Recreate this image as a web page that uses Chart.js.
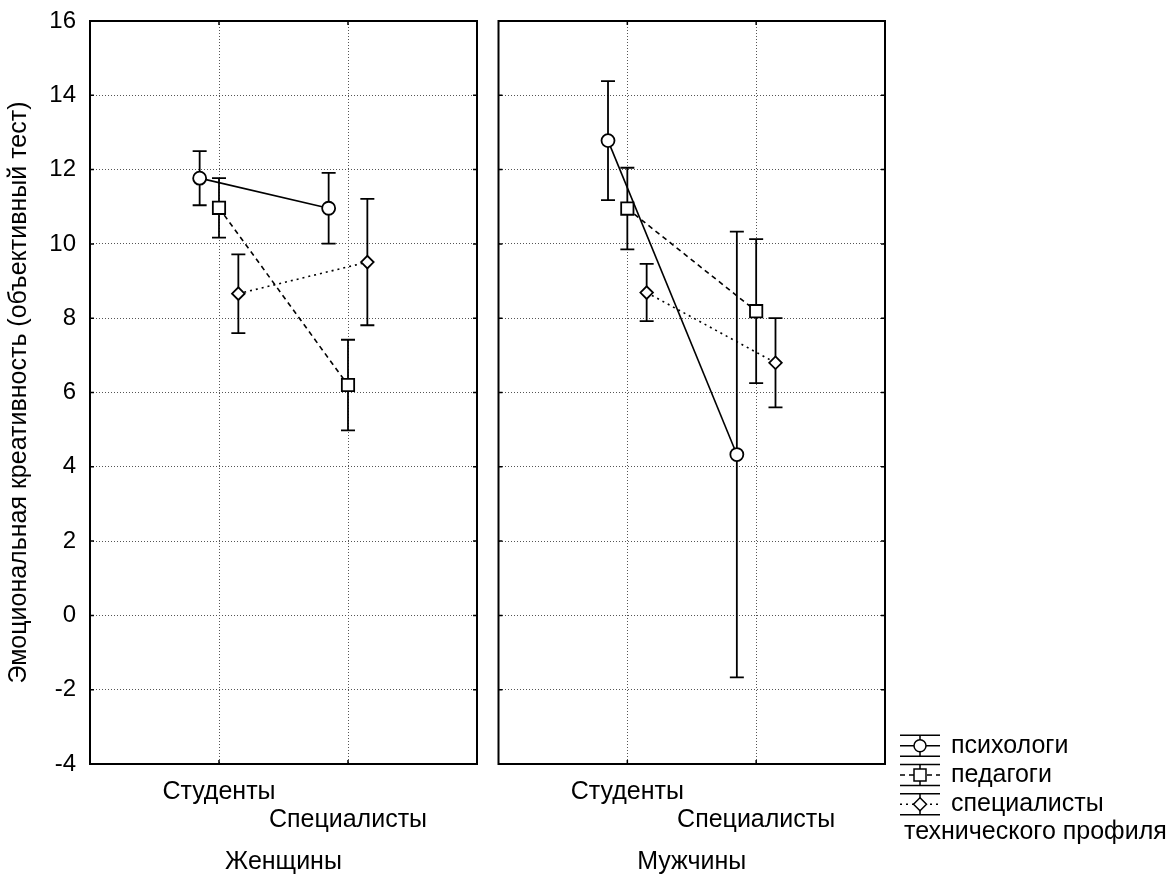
<!DOCTYPE html>
<html>
<head>
<meta charset="utf-8">
<script src="https://cdn.jsdelivr.net/npm/chart.js@4.4.0/dist/chart.umd.min.js"></script>
<style>
  body { margin: 0; background: #fff; }
  #wrap { position: relative; width: 1176px; height: 877px; }
  #left { position: absolute; left: 0; top: 0; }
  #right { position: absolute; left: 488px; top: 0; }
</style>
</head>
<body>
<div id="wrap">
  <canvas id="left" width="488" height="877" style="width:488px;height:877px"></canvas>
  <canvas id="right" width="688" height="877" style="width:688px;height:877px"></canvas>
</div>
<script>
// data (means and half-widths of the bars)
const categories = ['Студенты', 'Специалисты'];
const panels = ['Женщины', 'Мужчины'];
const seriesNames = ['психологи', 'педагоги', 'специалисты технического профиля'];
const yTitle = 'Эмоциональная креативность (объективный тест)';

const womenPsych = [11.77, 10.96];
const womenPsychErr = [0.73, 0.95];
const womenPed = [10.97, 6.20];
const womenPedErr = [0.80, 1.22];
const womenTech = [8.66, 9.51];
const womenTechErr = [1.06, 1.70];

const menPsych = [12.78, 4.33];
const menPsychErr = [1.60, 6.00];
const menPed = [10.95, 8.19];
const menPedErr = [1.10, 1.94];
const menTech = [8.69, 6.80];
const menTechErr = [0.77, 1.20];

const family = '"Liberation Sans", Arial, sans-serif';
const font = { family, size: 25, lineHeight: 1.12 };
const numFont = { family, size: 24, lineHeight: 1.1 };

// per-series look: marker, line dash, sideways shift from the category
const styles = [
  { pointStyle: 'circle', radius: 6.5, dash: [], shift: -0.15 },
  { pointStyle: 'rect', radius: 8.7, dash: [5, 4], shift: 0 },
  { pointStyle: 'rectRot', radius: 6.3, dash: [2, 4], shift: 0.15 }
];

function makeDatasets(means, errs){
  return means.map((m, s) => ({
    label: seriesNames[s],
    data: m.map((v, i) => ({ x: i + 1 + styles[s].shift, y: v, err: errs[s][i] })),
    borderColor: '#000', borderWidth: 1.6, borderDash: styles[s].dash,
    pointStyle: styles[s].pointStyle, pointRadius: styles[s].radius,
    pointBackgroundColor: '#fff', pointBorderColor: '#000', pointBorderWidth: 1.8,
    showLine: true, fill: false, tension: 0, clip: false
  }));
}

const errorBars = {
  id: 'errorBars',
  beforeDatasetsDraw(chart){
    const { ctx, scales: { x, y } } = chart;
    ctx.save();
    ctx.strokeStyle = '#000'; ctx.lineWidth = 1.8; ctx.setLineDash([]);
    chart.data.datasets.forEach(ds => ds.data.forEach(p => {
      const px = x.getPixelForValue(p.x);
      const top = y.getPixelForValue(p.y + p.err), bot = y.getPixelForValue(p.y - p.err);
      ctx.beginPath();
      ctx.moveTo(px, top); ctx.lineTo(px, bot);
      ctx.moveTo(px - 7, top); ctx.lineTo(px + 7, top);
      ctx.moveTo(px - 7, bot); ctx.lineTo(px + 7, bot);
      ctx.stroke();
    }));
    ctx.restore();
  }
};

const frame = {
  id: 'frame',
  afterDatasetsDraw(chart){
    const { ctx, chartArea: a, scales: { x, y } } = chart;
    ctx.save();
    ctx.strokeStyle = '#000'; ctx.setLineDash([]);
    ctx.lineWidth = 1.5;
    ctx.beginPath();
    y.ticks.forEach(t => {
      const py = y.getPixelForValue(t.value);
      ctx.moveTo(a.left, py); ctx.lineTo(a.left + 4, py);
      ctx.moveTo(a.right, py); ctx.lineTo(a.right - 4, py);
    });
    x.ticks.forEach(t => {
      const px = x.getPixelForValue(t.value);
      ctx.moveTo(px, a.bottom); ctx.lineTo(px, a.bottom - 4);
      ctx.moveTo(px, a.top); ctx.lineTo(px, a.top + 4);
    });
    ctx.stroke();
    ctx.lineWidth = 2;
    ctx.strokeRect(a.left, a.top, a.right - a.left, a.bottom - a.top);
    ctx.restore();
  }
};

function drawMarker(ctx, style, cx, cy){
  ctx.beginPath();
  if (style === 'circle') ctx.arc(cx, cy, 6, 0, Math.PI * 2);
  else if (style === 'rect') ctx.rect(cx - 6, cy - 6, 12, 12);
  else { ctx.moveTo(cx, cy - 6.5); ctx.lineTo(cx + 6.5, cy); ctx.lineTo(cx, cy + 6.5); ctx.lineTo(cx - 6.5, cy); ctx.closePath(); }
  ctx.fillStyle = '#fff'; ctx.fill();
  ctx.setLineDash([]); ctx.stroke();
}

const legendBox = {
  id: 'legendBox',
  afterDraw(chart){
    const ctx = chart.ctx;
    const x0 = 412, x1 = 452, cx = 432, tx = 463;
    const rows = [745.7, 775, 804.3];
    ctx.save();
    ctx.strokeStyle = '#000'; ctx.lineWidth = 1.5;
    ctx.font = font.size + 'px ' + font.family;
    ctx.fillStyle = '#000'; ctx.textBaseline = 'middle'; ctx.textAlign = 'left';
    rows.forEach((cy, s) => {
      ctx.setLineDash([]);
      ctx.beginPath();
      ctx.moveTo(x0, cy - 10.5); ctx.lineTo(x1, cy - 10.5);
      ctx.moveTo(x0, cy + 10.5); ctx.lineTo(x1, cy + 10.5);
      ctx.moveTo(cx, cy - 10.5); ctx.lineTo(cx, cy + 10.5);
      ctx.stroke();
      ctx.setLineDash(styles[s].dash);
      ctx.beginPath(); ctx.moveTo(x0, cy); ctx.lineTo(x1, cy); ctx.stroke();
      drawMarker(ctx, styles[s].pointStyle, cx, cy);
    });
    ctx.fillStyle = '#000';
    const words = seriesNames[2].split(' ');
    ctx.fillText(seriesNames[0], tx, rows[0]);
    ctx.fillText(seriesNames[1], tx, rows[1]);
    ctx.fillText(words[0], tx, rows[2]);
    ctx.fillText(words.slice(1).join(' '), 416, 832);
    ctx.restore();
  }
};

function makeChart(id, panel, datasets, isLeft){
  return new Chart(document.getElementById(id), {
    type: 'line',
    data: { datasets },
    options: {
      responsive: false, animation: false,
      layout: { padding: { top: 21, left: 0, bottom: 0, right: isLeft ? 11 : 291 } },
      plugins: { legend: { display: false }, tooltip: { enabled: false } },
      scales: {
        x: {
          type: 'linear', min: 0, max: 3,
          afterBuildTicks: s => { s.ticks = categories.map((c, i) => ({ value: i + 1 })); },
          ticks: {
            callback: v => v === 1 ? [categories[0], ''] : ['', categories[1]],
            font, color: '#000', padding: 14, maxRotation: 0, autoSkip: false
          },
          grid: { color: '#555', lineWidth: 1, drawTicks: false },
          border: { display: false, dash: [1, 2] },
          title: { display: true, text: panel, font, color: '#000', padding: { top: 1, bottom: 1 } },
          afterFit: s => { s.height = 113; s.paddingLeft = 0; s.paddingRight = 0; }
        },
        y: {
          min: -4, max: 16,
          ticks: { stepSize: 2, display: isLeft, font: numFont, color: '#000', padding: 14 },
          grid: { color: '#555', lineWidth: 1, drawTicks: false },
          border: { display: false, dash: [1, 2] },
          title: { display: isLeft, text: yTitle, font, color: '#000', padding: { top: 5, bottom: 0 } },
          afterFit: s => { s.width = isLeft ? 90 : 10; s.paddingTop = 0; s.paddingBottom = 0; }
        }
      }
    },
    plugins: isLeft ? [errorBars, frame] : [errorBars, frame, legendBox]
  });
}

makeChart('left', panels[0],
  makeDatasets([womenPsych, womenPed, womenTech], [womenPsychErr, womenPedErr, womenTechErr]), true);
makeChart('right', panels[1],
  makeDatasets([menPsych, menPed, menTech], [menPsychErr, menPedErr, menTechErr]), false);
</script>
</body>
</html>
